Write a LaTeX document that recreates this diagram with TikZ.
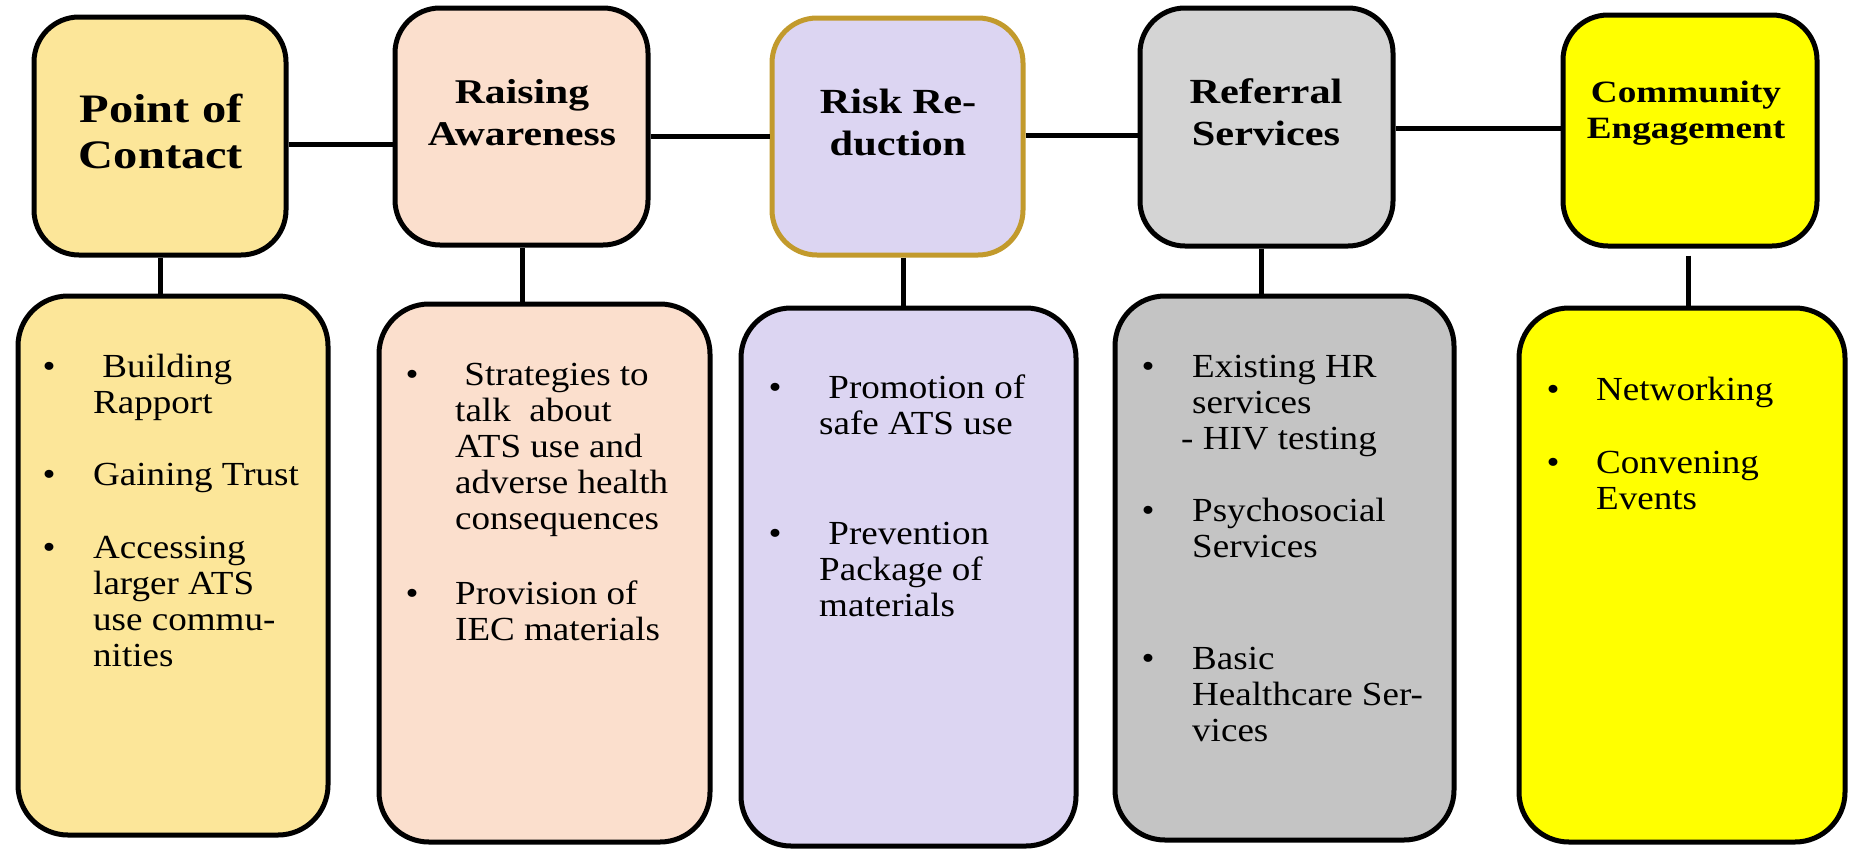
\documentclass[tikz,border=0pt]{standalone}
\usepackage{fontspec}
\setmainfont{Liberation Serif}
\newfontfamily\bodyf{Liberation Serif}[FakeStretch=1.1]
\newfontfamily\headf{Liberation Serif}[FakeStretch=1.2]
\definecolor{cPoC}{HTML}{FCE699}
\definecolor{cRai}{HTML}{FBDFCD}
\definecolor{cRisk}{HTML}{DCD5F2}
\definecolor{cGold}{HTML}{C29A2C}
\definecolor{cRefT}{HTML}{D4D4D4}
\definecolor{cRefB}{HTML}{C4C4C4}
\definecolor{cCom}{HTML}{FFFF00}
\newcommand{\mlc}[1]{\vtop{\halign{\hfil##\hfil\cr#1\crcr}}}
\newcommand{\mll}[1]{\vtop{\halign{##\hfil\cr#1\crcr}}}
\newcommand{\bodyfnt}{\bodyf\fontsize{33.7}{36}\selectfont\lineskiplimit=-100pt\relax}
\newcommand{\headfnt}[2]{\headf\bfseries\fontsize{#1}{#2}\selectfont\lineskiplimit=-100pt\relax}
\tikzset{
  tbox/.style={draw=black, line width=5pt, rounded corners=45pt, inner sep=0pt},
  bbox/.style={draw=black, line width=5pt, rounded corners=50pt, inner sep=0pt},
  conn/.style={draw=black, line width=5pt},
  head/.style={anchor=base, inner sep=0pt},
  itemtxt/.style={anchor=base west, inner sep=0pt, font=\bodyfnt},
  bul/.style={anchor=base, inner sep=0pt, font=\bodyfnt},
}
\begin{document}
\begin{tikzpicture}[x=1pt,y=-1pt]
\useasboundingbox (0,0) rectangle (1850,852);
\fill[white] (0,0) rectangle (1850,852);

% top boxes
\node[tbox, fill=cPoC, minimum width=252pt, minimum height=238pt] (t1) at (160,136) {};
\node[tbox, fill=cRai, minimum width=253pt, minimum height=237pt] (t2) at (521.5,126.5) {};
\node[tbox, fill=cRisk, draw=cGold, minimum width=251pt, minimum height=237pt] (t3) at (897.5,136.5) {};
\node[tbox, fill=cRefT, minimum width=253pt, minimum height=238pt] (t4) at (1266.5,127) {};
\node[tbox, fill=cCom, minimum width=254pt, minimum height=231pt] (t5) at (1690,130.5) {};

% bottom boxes
\node[bbox, fill=cPoC, minimum width=310pt, minimum height=539pt] (b1) at (173,565.5) {};
\node[bbox, fill=cRai, minimum width=331pt, minimum height=538pt] (b2) at (544.5,573) {};
\node[bbox, fill=cRisk, minimum width=335pt, minimum height=538pt] (b3) at (908.5,577) {};
\node[bbox, fill=cRefB, minimum width=339pt, minimum height=544pt] (b4) at (1284.5,568) {};
\node[bbox, fill=cCom, minimum width=326pt, minimum height=534pt] (b5) at (1682,575) {};

% horizontal connectors
\draw[conn] (t1.east |- 0,144) -- (t2.west |- 0,144);
\draw[conn] (t2.east |- 0,136) -- (t3.west |- 0,136);
\draw[conn] (t3.east |- 0,135) -- (t4.west |- 0,135);
\draw[conn] (t4.east |- 0,128) -- (t5.west |- 0,128);

% vertical connectors
\draw[conn] (t1.south -| 160,0) -- (b1.north -| 160,0);
\draw[conn] (t2.south -| 522,0) -- (b2.north -| 522,0);
\draw[conn] (t3.south -| 903,0) -- (b3.north -| 903,0);
\draw[conn] (t4.south -| 1261,0) -- (b4.north -| 1261,0);
\draw[conn] ([yshift=-7pt]t5.south -| 1688,0) -- (b5.north -| 1688,0);

% headings
\node[head, font=\headfnt{40.4}{46}] (h1) at (161,122) {\mlc{Point of\cr Contact}};
\node[head, font=\headfnt{34.7}{42}] (h2) at (522,103) {\mlc{Raising\cr Awareness}};
\node[head, font=\headfnt{35.3}{42}] (h3) at (898,113) {\mlc{Risk Re-\cr duction}};
\node[head, font=\headfnt{35.3}{42}] (h4) at (1266,103) {\mlc{Referral\cr Services}};
\node[head, font=\headfnt{31}{36}] (h5) at (1686,102) {\mlc{Community\cr Engagement}};

% box 1 items
\node[bul] (u11) at (49,377) {•};
\node[itemtxt] (i11) at (93,377) {\mll{\ Building\cr Rapport}};
\node[bul] (u12) at (49,485) {•};
\node[itemtxt] (i12) at (93,485) {\mll{Gaining Trust}};
\node[bul] (u13) at (49,558) {•};
\node[itemtxt] (i13) at (93,558) {\mll{Accessing\cr larger ATS\cr use commu-\cr nities}};

% box 2 items
\node[bul] (u21) at (412,385) {•};
\node[itemtxt] (i21) at (455,385) {\mll{\ Strategies to\cr talk\ \ about\cr ATS use and\cr adverse health\cr consequences}};
\node[bul] (u22) at (412,604) {•};
\node[itemtxt] (i22) at (455,604) {\mll{Provision of\cr IEC materials}};

% box 3 items
\node[bul] (u31) at (775,398) {•};
\node[itemtxt] (i31) at (819,398) {\mll{\ Promotion of\cr safe ATS use}};
\node[bul] (u32) at (775,544) {•};
\node[itemtxt] (i32) at (819,544) {\mll{\ Prevention\cr Package of\cr materials}};

% box 4 items
\node[bul] (u41) at (1148,377) {•};
\node[itemtxt] (i41) at (1192,377) {\mll{Existing HR\cr services\cr \kern-11pt- HIV testing}};
\node[bul] (u42) at (1148,521) {•};
\node[itemtxt] (i42) at (1192,521) {\mll{Psychosocial\cr Services}};
\node[bul] (u43) at (1148,669) {•};
\node[itemtxt] (i43) at (1192,669) {\mll{Basic\cr Healthcare Ser-\cr vices}};

% box 5 items
\node[bul] (u51) at (1553,400) {•};
\node[itemtxt] (i51) at (1596,400) {\mll{Networking}};
\node[bul] (u52) at (1553,473) {•};
\node[itemtxt] (i52) at (1596,473) {\mll{Convening\cr Events}};
\end{tikzpicture}
\end{document}
